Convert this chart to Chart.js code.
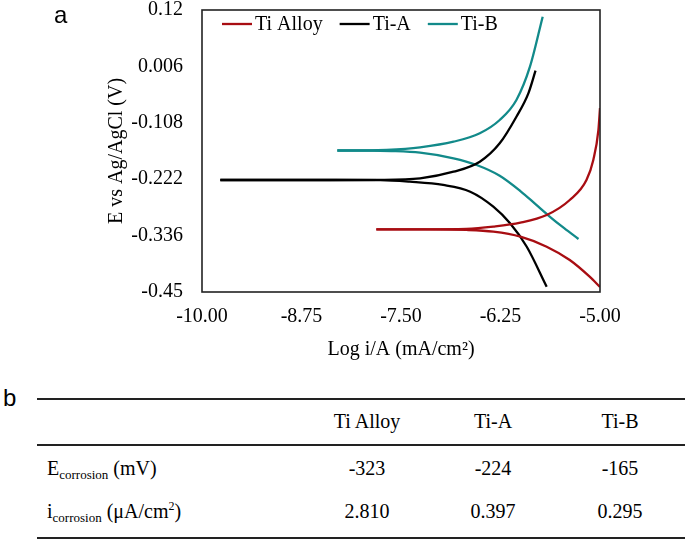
<!DOCTYPE html>
<html>
<head>
<meta charset="utf-8">
<script src="https://cdn.jsdelivr.net/npm/chart.js@4.4.1/dist/chart.umd.min.js"></script>
<style>
  html, body { margin: 0; padding: 0; background: #fff; }
  body { width: 685px; height: 541px; position: relative; overflow: hidden; font-family: "Liberation Serif", "Times New Roman", serif; color: #000; }
  #wrap { position: absolute; left: 0; top: 0; width: 685px; height: 370px; }
  .panel { position: absolute; font-family: "Liberation Sans", Arial, sans-serif; font-size: 24px; line-height: 1; }
  .rule { position: absolute; left: 37px; width: 648px; height: 2px; background: #222; }
  .cell { position: absolute; font-size: 20px; line-height: 1; white-space: nowrap; transform: translateY(-50%); }
  .c { transform: translate(-50%, -50%); }
  sub { font-size: 13px; vertical-align: -4px; line-height: 0; }
  sup { font-size: 12px; vertical-align: 8px; line-height: 0; }
</style>
</head>
<body>
<div id="wrap"><canvas id="c" width="685" height="370"></canvas></div>
<div class="panel" style="left:54px;top:3px;">a</div>
<div class="panel" style="left:3px;top:386px;">b</div>
<div class="rule" style="top:398px;"></div>
<div class="rule" style="top:444px;"></div>
<div class="rule" style="top:537px;"></div>
<div id="table"></div>
<script>
// ---- data ----
const seriesNames = ['Ti Alloy', 'Ti-A', 'Ti-B'];
const seriesColors = ['#a80d12', '#000000', '#128a8a'];

// [log i, E] pairs, each branch starts at the corrosion potential
const tiAlloyAnodic = [[-7.81,-0.3233],[-7.2,-0.3233],[-6.68,-0.3225],[-6.34,-0.318],[-6.0,-0.310],[-5.67,-0.2944],[-5.38,-0.264],[-5.17,-0.2236],[-5.084,-0.183],[-5.02,-0.1226],[-5.0,-0.078]];
const tiAlloyCathodic = [[-7.81,-0.3233],[-7.2,-0.3233],[-6.68,-0.3245],[-6.34,-0.3281],[-6.0,-0.3382],[-5.67,-0.3585],[-5.38,-0.3854],[-5.13,-0.4191],[-5.0,-0.44]];
const tiAAnodic = [[-9.77,-0.2236],[-8.5,-0.2236],[-7.76,-0.2233],[-7.26,-0.2202],[-6.84,-0.2069],[-6.51,-0.1866],[-6.26,-0.1495],[-6.05,-0.0957],[-5.90,-0.0484],[-5.81,-0.0027]];
const tiACathodic = [[-9.77,-0.2236],[-8.5,-0.2236],[-7.76,-0.2238],[-7.39,-0.227],[-6.97,-0.2337],[-6.63,-0.2473],[-6.34,-0.2776],[-6.13,-0.3112],[-5.92,-0.3585],[-5.67,-0.4393]];
const tiBAnodic = [[-8.30,-0.164],[-7.9,-0.164],[-7.68,-0.163],[-7.26,-0.1575],[-6.84,-0.1462],[-6.51,-0.1292],[-6.26,-0.1024],[-6.05,-0.0619],[-5.88,0.0054],[-5.72,0.1065]];
const tiBCathodic = [[-8.30,-0.164],[-7.9,-0.164],[-7.62,-0.165],[-7.26,-0.1685],[-6.84,-0.1798],[-6.55,-0.1933],[-6.26,-0.215],[-6.0,-0.246],[-5.8,-0.274],[-5.64,-0.2964],[-5.45,-0.321],[-5.27,-0.3429]];

const xTickValues = [-10, -8.75, -7.5, -6.25, -5];
const yTickValues = [0.12, 0.006, -0.108, -0.222, -0.336, -0.45];
const yTickLabels = ['0.12', '0.006', '-0.108', '-0.222', '-0.336', '-0.45'];

const tableColumns = ['Ti Alloy', 'Ti-A', 'Ti-B'];
const eCorrosion = ['-323', '-224', '-165'];
const iCorrosion = ['2.810', '0.397', '0.295'];

// ---- table ----
const colX = [367, 493, 620];
let html = '';
tableColumns.forEach((t, i) => { html += `<div class="cell c" style="left:${colX[i]}px;top:421px;">${t}</div>`; });
html += `<div class="cell" style="left:47px;top:468px;">E<sub>corrosion</sub> (mV)</div>`;
html += `<div class="cell" style="left:47px;top:511px;">i<sub>corrosion</sub> (μA/cm<sup>2</sup>)</div>`;
eCorrosion.forEach((t, i) => { html += `<div class="cell c" style="left:${colX[i]}px;top:468px;">${t}</div>`; });
iCorrosion.forEach((t, i) => { html += `<div class="cell c" style="left:${colX[i]}px;top:511px;">${t}</div>`; });
document.getElementById('table').innerHTML = html;

// ---- chart ----
const toPts = arr => arr.map(p => ({x: p[0], y: p[1]}));
const branches = [
  [tiAlloyAnodic, 0], [tiAlloyCathodic, 0],
  [tiAAnodic, 1], [tiACathodic, 1],
  [tiBAnodic, 2], [tiBCathodic, 2]
];
const datasets = branches.map(([arr, k]) => ({
  label: seriesNames[k],
  data: toPts(arr),
  borderColor: seriesColors[k],
  backgroundColor: seriesColors[k],
  borderWidth: 2.3,
  pointRadius: 0,
  showLine: true,
  fill: false,
  cubicInterpolationMode: 'monotone'
}));

const FONT = '"Liberation Serif", "Times New Roman", serif';

const frame = {
  id: 'frame',
  afterDatasetsDraw(chart) {
    const {ctx, chartArea: a} = chart;
    ctx.save();
    ctx.strokeStyle = '#222';
    ctx.lineWidth = 1.6;
    ctx.strokeRect(a.left, a.top, a.right - a.left, a.bottom - a.top);
    // legend inside plot
    ctx.font = '20px ' + FONT;
    ctx.textBaseline = 'middle';
    let x = 222; const y = 24;
    seriesNames.forEach((n, i) => {
      ctx.strokeStyle = seriesColors[i];
      ctx.lineWidth = 2.3;
      ctx.beginPath(); ctx.moveTo(x, y); ctx.lineTo(x + 30, y); ctx.stroke();
      ctx.fillStyle = '#000';
      ctx.fillText(n, x + 33, y + 1);
      x += 33 + ctx.measureText(n).width + 17;
    });
    ctx.restore();
  }
};

function draw() {
  new Chart(document.getElementById('c'), {
    type: 'scatter',
    data: { datasets },
    options: {
      responsive: false,
      animation: false,
      layout: { padding: { left: 105, right: 85, top: 10, bottom: 0 } },
      plugins: { legend: { display: false }, tooltip: { enabled: false } },
      scales: {
        x: {
          type: 'linear', min: -10, max: -5,
          afterBuildTicks: s => { s.ticks = xTickValues.map(v => ({value: v})); },
          afterFit: s => { s.height = 78; s.paddingLeft = 0; s.paddingRight = 0; },
          grid: { display: false, drawTicks: false },
          border: { display: false },
          ticks: { color: '#000', font: { family: FONT, size: 20 }, padding: 13, maxRotation: 0, autoSkip: false,
                   callback: v => v.toFixed(2) },
          title: { display: true, text: 'Log i/A (mA/cm²)', color: '#000', font: { family: FONT, size: 20 }, padding: { top: 0, bottom: 8 } }
        },
        y: {
          type: 'linear', min: -0.45, max: 0.12,
          afterBuildTicks: s => { s.ticks = yTickValues.map(v => ({value: v})); },
          afterFit: s => { s.width = 97; s.paddingTop = 0; s.paddingBottom = 0; },
          grid: { display: false, drawTicks: false },
          border: { display: false },
          ticks: { color: '#000', font: { family: FONT, size: 20 }, padding: 19, autoSkip: false,
                   callback: v => { const i = yTickValues.findIndex(t => Math.abs(t - v) < 1e-9); return i >= 0 ? yTickLabels[i] : ''; } },
          title: { display: true, text: 'E vs Ag/AgCl (V)', color: '#000', font: { family: FONT, size: 20 }, padding: 0 }
        }
      }
    },
    plugins: [frame]
  });
}
if (document.fonts && document.fonts.load) {
  Promise.all([document.fonts.load('20px "Liberation Serif"'), document.fonts.load('24px "Liberation Sans"')])
    .then(draw, draw);
} else { draw(); }
</script>
</body>
</html>
